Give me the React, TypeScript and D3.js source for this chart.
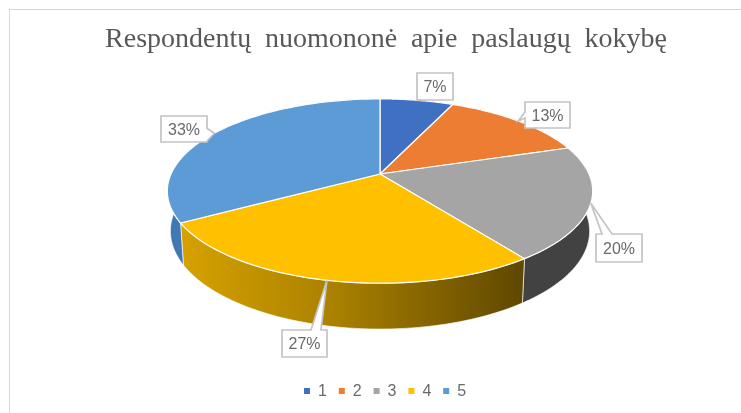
import React from "react";
import * as d3 from "d3";

const width = 741,
  height = 413;

const title = "Respondentų nuomononė apie paslaugų kokybę";
const categories = ["1", "2", "3", "4", "5"];
// slice sizes, labels show them rounded
const shares = [6.67, 13.33, 20, 26.67, 33.33];
const topColors = ["#4070c2", "#ed7d31", "#a5a5a5", "#ffc000", "#5b9bd5"];
const sideColors = ["#2f5597", "#b85f20", "#434343", "url(#sideYellow)", "#3f78b5"];

// label box corners for each slice, top left then size
const boxes = [
  { x: 417, y: 73, w: 36, h: 27 },
  { x: 525, y: 102, w: 45, h: 26 },
  { x: 596, y: 234, w: 46, h: 28 },
  { x: 282, y: 330, w: 45, h: 27 },
  { x: 161, y: 116, w: 46, h: 26 },
];

const cx = 380;
const tilt = 0.185; // perspective, the far rim is squeezed

// unit circle -> screen, angle clockwise from 12 o'clock
function rim(angle: number, k: number, b: number, cy: number): [number, number] {
  const u = Math.sin(angle),
    v = Math.cos(angle),
    den = 1 + tilt * v;
  return [cx + (k * u) / den, cy - (b * v) / den];
}
const topRim = (a: number) => rim(a, 209, 89, 174);
const lowRim = (a: number) => rim(a, 206, 94.6, 213);

function arcPoints(a0: number, a1: number, f: (a: number) => [number, number]) {
  return d3.range(0, 61).map((i) => f(a0 + ((a1 - a0) * i) / 60));
}

const line = d3.line();

// legend spacing goes through a band scale
const legendX = d3.scaleBand<string>().domain(categories).range([290, 464]);

function calloutPath(b: { x: number; y: number; w: number; h: number }, tx: number, ty: number) {
  const { x, y, w, h } = b;
  const bx = x + w / 2;
  let outline: [number, number][];
  if (ty > y + h) {
    // pointer leaves the bottom edge
    const c = Math.max(x + 3, Math.min(x + w - 16, (tx + bx) / 2 - 4));
    outline = [[x, y], [x + w, y], [x + w, y + h], [c + 9, y + h], [tx, ty], [c, y + h], [x, y + h]];
  } else if (ty < y) {
    // pointer leaves the top edge
    const c = Math.max(x + 6, Math.min(x + w - 16, (tx + bx) / 2 - 4));
    outline = [[x, y], [c, y], [tx, ty], [c + 10, y], [x + w, y], [x + w, y + h], [x, y + h]];
  } else if (tx < x) {
    outline = [[x, y], [x + w, y], [x + w, y + h], [x, y + h], [x, ty - 3], [tx, ty], [x, ty - 9]];
  } else {
    outline = [[x, y], [x + w, y], [x + w, ty - 5], [tx, ty], [x + w, y + h - 1], [x + w, y + h], [x, y + h]];
  }
  return line(outline) + "Z";
}

export default function App() {
  const arcs = d3.pie<number>().sort(null)(shares);

  return (
    <svg
      width={width}
      height={height}
      viewBox={`0 0 ${width} ${height}`}
      style={{ position: "fixed", left: 0, top: 0, background: "#fff" }}
    >
      <defs>
        <linearGradient id="sideYellow" gradientUnits="userSpaceOnUse" x1="180" x2="525" y1="0" y2="0">
          <stop offset="0" stopColor="#d6a206" />
          <stop offset="0.45" stopColor="#aa8000" />
          <stop offset="1" stopColor="#5f4700" />
        </linearGradient>
        <filter id="soft" x="0" y="0" width="100%" height="100%">
          <feGaussianBlur stdDeviation="0.45" />
        </filter>
      </defs>
      <g filter="url(#soft)">
        {/* frame of the pasted picture */}
        <path d="M741,9H9V413" fill="none" stroke="#d6d6d6" strokeWidth={1.8} />

        <text
          x={386}
          y={47}
          textAnchor="middle"
          fontFamily="'Liberation Serif', serif"
          fontSize={28}
          wordSpacing={6.7}
          fill="#595959"
        >
          {title}
        </text>

        {/* side wall first, top face paints over the hidden parts */}
        {arcs.map((d, i) => {
          const pts = [
            ...arcPoints(d.startAngle, d.endAngle, topRim),
            ...arcPoints(d.startAngle, d.endAngle, lowRim).reverse(),
          ];
          return <path key={i} d={line(pts) + "Z"} fill={sideColors[i]} stroke="#fff" strokeWidth={0.8} strokeOpacity={0.8} />;
        })}

        {arcs.map((d, i) => {
          const pts: [number, number][] = [[cx, 174], ...arcPoints(d.startAngle, d.endAngle, topRim)];
          return <path key={i} d={line(pts) + "Z"} fill={topColors[i]} stroke="#fff" strokeWidth={1.2} strokeLinejoin="round" />;
        })}

        {/* callouts */}
        {arcs.map((d, i) => {
          const b = boxes[i];
          const [tx, ty] = topRim((d.startAngle + d.endAngle) / 2);
          return (
            <g key={i}>
              <path d={calloutPath(b, tx, ty)} fill="#fff" stroke="#c4c4c4" strokeWidth={1.7} />
              <text
                x={b.x + b.w / 2}
                y={b.y + b.h / 2 + 5.5}
                textAnchor="middle"
                fontFamily="'Liberation Sans', Arial, sans-serif"
                fontSize={16}
                fill="#6a6a6a"
              >
                {Math.round(shares[i])}%
              </text>
            </g>
          );
        })}

        {/* legend */}
        {categories.map((c, i) => {
          const x = legendX(c)!;
          return (
            <g key={c}>
              <rect x={x + 14} y={388} width={6} height={6} fill={topColors[i]} />
              <text x={x + 28} y={396} fontFamily="'Liberation Sans', Arial, sans-serif" fontSize={16} fill="#6a6a6a">
                {c}
              </text>
            </g>
          );
        })}
      </g>
    </svg>
  );
}
